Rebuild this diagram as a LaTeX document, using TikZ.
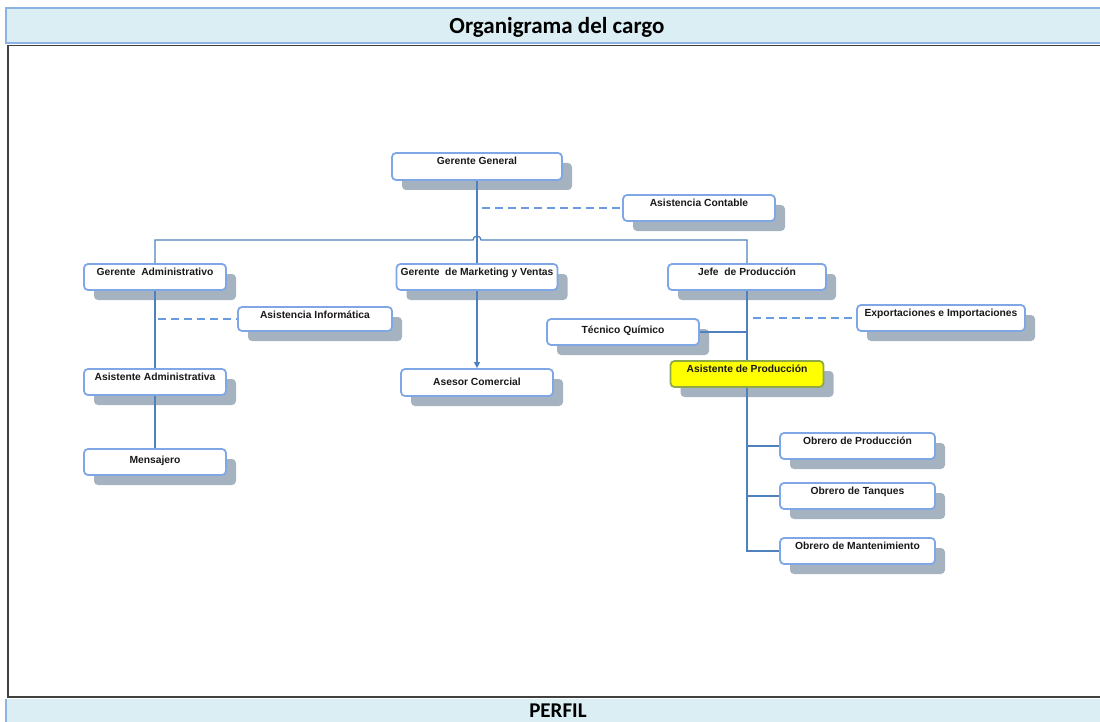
\documentclass[tikz,border=0pt]{standalone}
\usepackage{fontspec}
\setmainfont{Liberation Sans}
\newfontfamily\bandfont{Carlito}
\usetikzlibrary{shadows,arrows.meta}

\definecolor{bandfill}{HTML}{DBEEF4}
\definecolor{bandline}{HTML}{8DB3E2}
\definecolor{framec}{HTML}{404040}
\definecolor{nodeline}{HTML}{7FA7E6}
\definecolor{connc}{HTML}{4F81BD}
\definecolor{dashc}{HTML}{6A9BE0}
\definecolor{shadowc}{HTML}{A5B3C0}
\definecolor{hiline}{HTML}{8EA84A}
\definecolor{hifill}{HTML}{FFFF00}

% one box of the chart with its text near the top edge:
% name, centre x, centre y, width, height, text
\newcommand{\orgnode}[7][]{%
  \node[orgbox, minimum width=#5pt, minimum height=#6pt, #1] (#2) at (#3,#4) {};
  \node[orgtext, anchor=north] (#2-t) at ([yshift=-5pt]#2.north) {#7};
}
% the same box with its text in the middle
\newcommand{\orgnodemid}[7][]{%
  \node[orgbox, minimum width=#5pt, minimum height=#6pt, #1] (#2) at (#3,#4) {};
  \node[orgtext] (#2-t) at ([yshift=1pt]#2.center) {#7};
}

\begin{document}
\begin{tikzpicture}[x=1pt, y=-1pt,
  orgbox/.style={draw=nodeline, line width=1.8pt, fill=white, rounded corners=4pt,
    inner sep=0pt,
    general shadow={fill=shadowc, shadow xshift=10pt, shadow yshift=-10pt}},
  orgtext/.style={inner sep=0pt, font=\fontsize{10.3}{12}\selectfont\bfseries, text=black!90},
  highlight/.style={draw=hiline, fill=hifill},
  conn/.style={draw=connc, line width=1.3pt},
  dashline/.style={draw=dashc, line width=1.3pt, dash pattern=on 8pt off 5pt},
  bandtext/.style={inner sep=0pt, font=\bandfont\bfseries\fontsize{23}{25}\selectfont, text=black}
]
\useasboundingbox (0,0) rectangle (1100,722);

% title band
\fill[bandfill] (6,8) rectangle (1100,43);
\draw[bandline, line width=1.2pt] (1100,8) -- (6,8) -- (6,43) -- (1100,43);
\node[bandtext] (title) at (557,27.5) {Organigrama del cargo};

% frame of the chart area
\draw[framec, line width=1.6pt] (1100,45.5) -- (8,45.5) -- (8,697) -- (1100,697);

% bottom band
\fill[bandfill] (6,699) rectangle (1100,722);
\draw[bandline, line width=1.2pt] (6,722) -- (6,699);
\node[bandtext, font=\bandfont\bfseries\fontsize{21}{23}\selectfont] (perfil) at (558,710.5) {PERFIL};

% boxes
\orgnode{gg}{477}{166.5}{170}{27}{Gerente General}
\orgnode{cont}{699}{208}{152}{26}{Asistencia Contable}
\orgnode{ga}{155}{277}{142}{26}{Gerente~ Administrativo}
\orgnode{mk}{477}{277}{161}{26}{Gerente~ de Marketing y Ventas}
\orgnode{jp}{747}{277}{158}{26}{Jefe~ de Producción}
\orgnode{ai}{315}{319}{154}{24}{Asistencia Informática}
\orgnodemid{tq}{623}{332}{152}{26}{Técnico Químico}
\orgnode{ex}{941}{318}{168}{26}{Exportaciones e Importaciones}
\orgnode{aa}{155}{382}{142}{26}{Asistente Administrativa}
\orgnodemid{ac}{477}{382.5}{152}{27}{Asesor Comercial}
\orgnode[highlight]{ap}{747}{374}{153}{26}{Asistente de Producción}
\orgnodemid{ms}{155}{462}{142}{26}{Mensajero}
\orgnode{op}{857.5}{446}{155}{26}{Obrero de Producción}
\orgnode{ot}{857.5}{496}{155}{26}{Obrero de Tanques}
\orgnode{om}{857.5}{551}{155}{26}{Obrero de Mantenimiento}

% connectors
\coordinate (bus) at (477,240);
\draw[conn] (gg.south) -- (gg.south |- mk.north);
\draw[conn] (ga.north) -- (ga.north |- bus) -- ([xshift=-4pt]bus)
  arc[start angle=180, end angle=0, radius=4pt] -- (jp.north |- bus) -- (jp.north);
\draw[dashline] ([xshift=5pt]gg.south |- cont.west) -- (cont.west);

\draw[conn] (ga.south) -- (aa.north);
\draw[conn] (aa.south) -- (ms.north);
\draw[dashline] ([xshift=3pt]ga.south |- ai.west) -- (ai.west);

\draw[conn, -{Triangle[length=6pt, width=6pt]}] (mk.south) -- (ac.north);

\draw[conn] (jp.south) -- (ap.north);
\draw[conn] (tq.east) -- (jp.south |- tq.east);
\draw[dashline] ([xshift=6pt]jp.south |- ex.west) -- (ex.west);
\draw[conn] (ap.south) |- (om.west);
\draw[conn] (ap.south |- op.west) -- (op.west);
\draw[conn] (ap.south |- ot.west) -- (ot.west);
\end{tikzpicture}
\end{document}
